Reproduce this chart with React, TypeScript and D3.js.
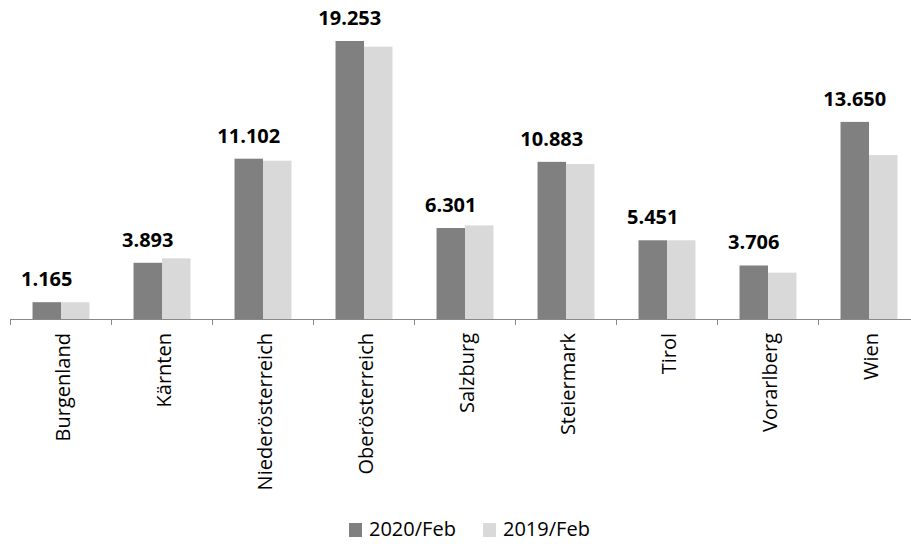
import React from "react";
import * as d3 from "d3";

const categories = ["Burgenland", "Kärnten", "Niederösterreich", "Oberösterreich", "Salzburg", "Steiermark", "Tirol", "Vorarlberg", "Wien"];
const values2020 = [1.165, 3.893, 11.102, 19.253, 6.301, 10.883, 5.451, 3.706, 13.65];
const values2019 = [1.16, 4.2, 10.96, 18.86, 6.48, 10.73, 5.45, 3.21, 11.36];
const seriesNames = ["2020/Feb", "2019/Feb"];
const seriesColors = ["#808080", "#D9D9D9"];
const labelFormat = (v: number) => d3.format(".3f")(v);

const W = 911;
const H = 544;
const FONT = "'Open Sans', sans-serif";

export default function App() {
  const baseY = 319;
  const x = d3.scaleBand<string>().domain(categories).range([10.5, 10.5 + 9 * 101]).paddingInner(0.436).paddingOuter(0.218);
  const xs = d3.scaleBand<string>().domain(seriesNames).range([0, x.bandwidth()]);
  const y = d3.scaleLinear().domain([0, 20]).range([baseY, baseY - 20 * 14.44]);
  const step = x.step();
  const start = 10.5;
  const series = [values2020, values2019];
  const ticks = d3.range(categories.length + 1).map((i) => start + i * step);

  return (
    <div>
      <style>{`body{margin:0}`}</style>
      <svg width={W} height={H} style={{ display: "block", background: "#fff" }}>
        {categories.map((c, i) =>
          series.map((vals, s) => (
            <rect
              key={c + s}
              x={(x(c) as number) + (xs(seriesNames[s]) as number)}
              y={y(vals[i])}
              width={xs.bandwidth()}
              height={baseY - y(vals[i])}
              fill={seriesColors[s]}
            />
          ))
        )}
        <line x1={start} x2={W} y1={baseY + 0.5} y2={baseY + 0.5} stroke="#898989" strokeWidth={1} />
        {ticks.map((t, i) => (
          <line key={i} x1={t} x2={t} y1={baseY} y2={baseY + 6} stroke="#898989" strokeWidth={1} />
        ))}
        {categories.map((c, i) => (
          <text
            key={"l" + c}
            x={(x(c) as number) + xs("2020/Feb")! + xs.bandwidth() / 2}
            y={y(values2020[i]) - 16}
            textAnchor="middle"
            fontFamily={FONT}
            fontWeight="bold"
            fontSize={20}
            fill="#000"
          >
            {labelFormat(values2020[i])}
          </text>
        ))}
        {categories.map((c) => {
          const cx = (x(c) as number) + x.bandwidth() / 2;
          return (
            <text
              key={"c" + c}
              transform={`translate(${cx},333) rotate(-90)`}
              textAnchor="end"
              dy="0.45em"
              fontFamily={FONT}
              fontSize={20}
              fill="#000"
            >
              {c}
            </text>
          );
        })}
        {seriesNames.map((n, i) => {
          const lx = i === 0 ? 349 : 483;
          return (
            <g key={n}>
              <rect x={lx} y={523} width={13} height={14} fill={seriesColors[i]} />
              <text x={lx + 20} y={536} fontFamily={FONT} fontSize={20} fill="#000">
                {n}
              </text>
            </g>
          );
        })}
      </svg>
    </div>
  );
}
